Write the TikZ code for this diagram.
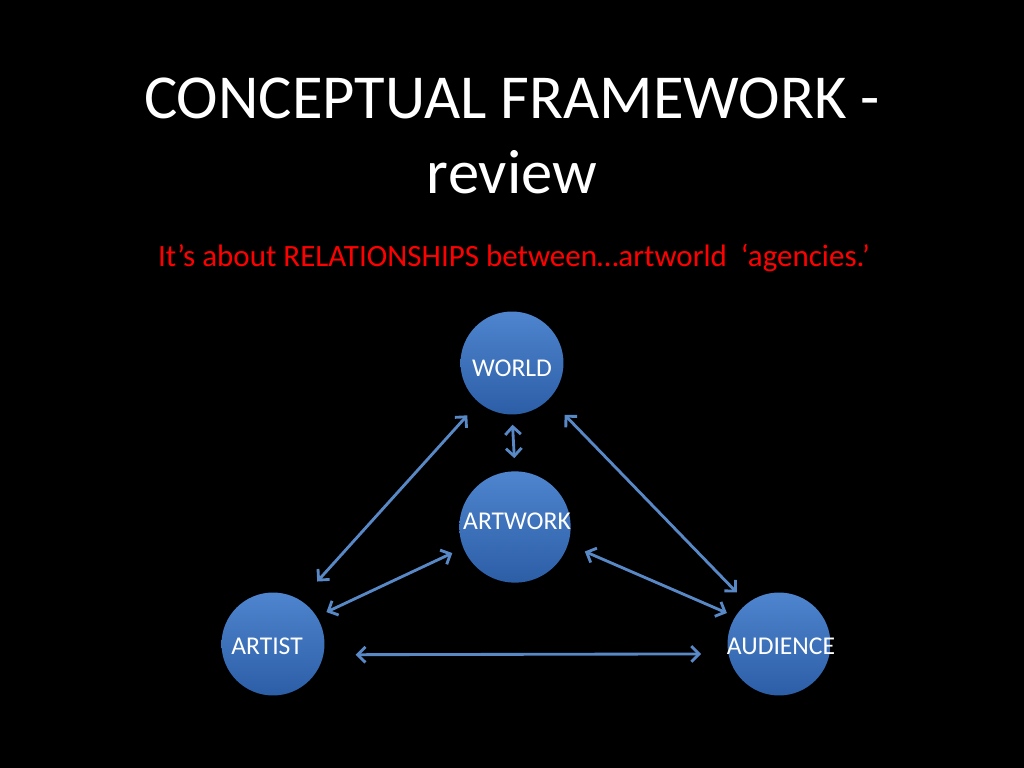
\documentclass[tikz,border=0pt]{standalone}
\usepackage{fontspec}
\setmainfont{Carlito}
\usetikzlibrary{arrows.meta}
\definecolor{orbtop}{RGB}{78,133,206}
\definecolor{orbbottom}{RGB}{44,94,166}
\definecolor{linkblue}{RGB}{88,136,198}
\begin{document}
\begin{tikzpicture}[x=0.703125pt, y=-0.703125pt,
  orb/.style={circle, minimum size=72.4pt, inner sep=0pt, top color=orbtop, bottom color=orbbottom},
  orbtext/.style={text=white, inner sep=0pt, font=\fontsize{18}{21.6}\selectfont},
  link/.style={draw=linkblue, line width=2pt, {Straight Barb[length=5.5pt,width=11pt]}-{Straight Barb[length=5.5pt,width=11pt]}}]
  \fill[black] (0,0) rectangle (1024,768);
  % heading
  \node[align=center, anchor=north, inner sep=0pt, text=white, font=\fontsize{44}{52.8}\selectfont] (title) at (512,78) {CONCEPTUAL FRAMEWORK -\\review};
  \node[anchor=base, inner sep=0pt, text=red, font=\fontsize{21.8}{26}\selectfont] (subtitle) at (514,267) {It’s about RELATIONSHIPS between…artworld\ \ ‘agencies.’};
  % agencies
  \node[orb, label={[orbtext, yshift=-3.5pt]center:WORLD}] (world) at (512,363) {};
  \node[orb, minimum size=78.3pt, label={[orbtext, xshift=1.4pt, yshift=3.9pt]center:ARTWORK}] (artwork) at (515,527) {};
  \node[orb, label={[orbtext, xshift=-4.2pt, yshift=-1.4pt]center:ARTIST}] (artist) at (273,644) {};
  \node[orb, label={[orbtext, xshift=1.4pt, yshift=-1.4pt]center:AUDIENCE}] (audience) at (779,644) {};
  % relationships
  \draw[link, shorten <=12pt, shorten >=17.6pt] (world.230) -- (artist.58);
  \draw[link, shorten <=15.5pt, shorten >=10.5pt] (world.-44) -- (audience.128);
  \draw[link, shorten <=7pt, shorten >=9.1pt] (world.south) -- (artwork.north);
  \draw[link, shorten <=8.4pt, shorten >=7.4pt] (artwork.202) -- (artist.32);
  \draw[link, shorten <=12.7pt, shorten >=6.3pt] (artwork.-18) -- (audience.148);
  \draw[link, shorten <=22.5pt, shorten >=19pt] (artist.-12) -- (audience.191);
\end{tikzpicture}
\end{document}
